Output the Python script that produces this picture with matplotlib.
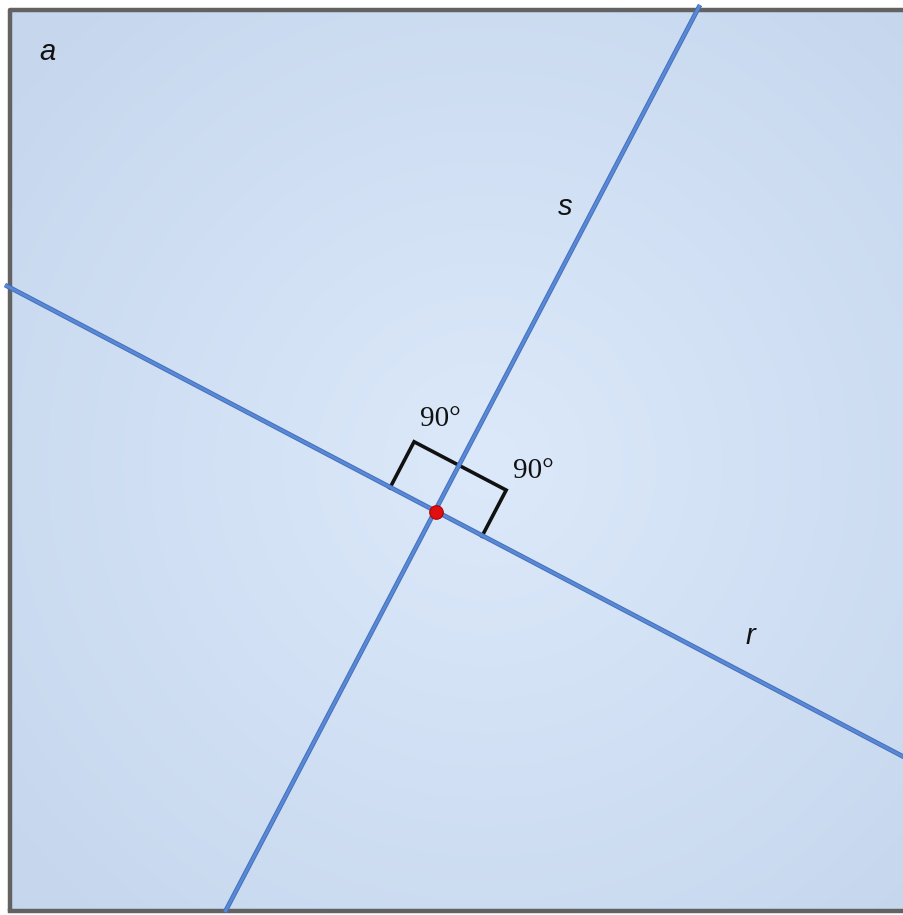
import numpy as np
import matplotlib
matplotlib.use("Agg")
import matplotlib.pyplot as plt
from matplotlib.colors import LinearSegmentedColormap

# --- data (pixel coordinates of the scene) ---
line_r = [(5, 285), (904, 757)]
line_s = [(700, 5), (225, 912)]
intersection = (436, 512)
marker_size = 52
labels = {"a": (47, 52), "s": (565, 207), "r": (750, 636)}
angle_labels = ["90°", "90°"]
angle_label_pos = [(440, 419), (533, 471)]

W, H = 904, 915
fig = plt.figure(figsize=(W / 100, H / 100), dpi=100)
ax = fig.add_axes([0, 0, 1, 1])
ax.set_xlim(0, W)
ax.set_ylim(H, 0)
ax.axis("off")

# background gradient plane
yy, xx = np.mgrid[0:H, 0:W]
d = np.sqrt(((xx - 480) / 650.0) ** 2 + ((yy - 460) / 650.0) ** 2)
d = np.clip(d, 0, 1)
cmap = LinearSegmentedColormap.from_list("bg", ["#dce9fa", "#c5d6ed"])
ax.imshow(d, cmap=cmap, extent=[12, W, 911, 12], zorder=0, aspect="auto")
ax.add_patch(plt.Rectangle((0, 0), W, H, color="white", zorder=-1))

# plane border
ax.plot([10, 10, W], [911, 10, 10], color="#626262", lw=3.2, zorder=1, solid_capstyle="butt")
ax.plot([10, W], [911, 911], color="#626262", lw=3.2, zorder=1)

# lines
for ln in (line_r, line_s):
    xs = [p[0] for p in ln]
    ys = [p[1] for p in ln]
    ax.plot(xs, ys, color="#4170bd", lw=3.4, zorder=3, solid_capstyle="butt")
    ax.plot(xs, ys, color="#5a88d4", lw=2.0, zorder=4, solid_capstyle="butt")

# right angle markers
P = np.array(intersection, float)
ur = np.array(line_r[1], float) - np.array(line_r[0], float)
ur /= np.linalg.norm(ur)
us = np.array(line_s[0], float) - np.array(line_s[1], float)
us /= np.linalg.norm(us)
m = marker_size
a = P - ur * m
b = a + us * m
c = P + ur * m + us * m
e = P + ur * m
ax.plot([a[0], b[0], c[0], e[0]], [a[1], b[1], c[1], e[1]],
        color="#111111", lw=2.6, zorder=2, solid_joinstyle="miter")

# intersection point
ax.scatter([P[0]], [P[1]], s=95, color="#e01010", edgecolors="#b00000", linewidths=0.8, zorder=6)

# labels
for t, (x, y) in labels.items():
    ax.text(x, y, t, fontsize=21, style="italic", family="Liberation Sans",
            ha="center", va="center", color="#111111", zorder=7)
for t, (x, y) in zip(angle_labels, angle_label_pos):
    ax.text(x, y, t, fontsize=21, family="Liberation Serif",
            ha="center", va="center", color="#111111", zorder=7)

fig.savefig("out.png", dpi=100)
